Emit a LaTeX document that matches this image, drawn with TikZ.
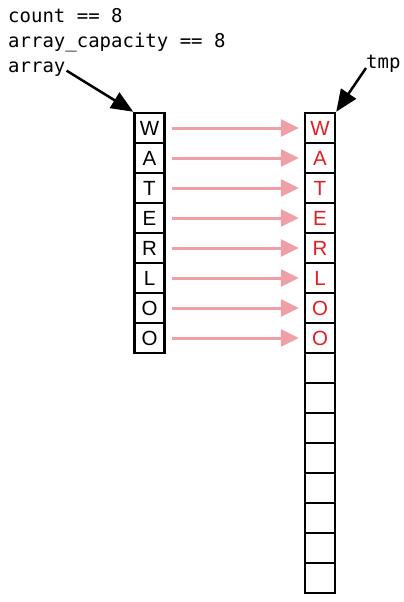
\documentclass[tikz,border=0pt]{standalone}
\usepackage{fontspec}
\setmainfont{Liberation Sans}
\newfontfamily\codefont{DejaVu Sans Mono}
\usetikzlibrary{arrows.meta}
\definecolor{pinkarrow}{RGB}{239,160,166}
\definecolor{redtext}{RGB}{228,30,36}
\tikzset{
  cell/.style={draw=black, line width=2.5pt, minimum width=30pt, minimum height=30pt, inner sep=0pt, font=\fontsize{20.5}{20.5}\selectfont},
  codetext/.style={inner sep=0pt, anchor=base west, font=\codefont\fontsize{19}{19}\selectfont},
  copyarrow/.style={draw=pinkarrow, line width=3pt, -{Triangle[length=18pt,width=17pt]}, shorten <=6.5pt, shorten >=5pt},
  ptrarrow/.style={draw=black, line width=2.5pt, -{Triangle[length=22pt,width=18pt]}}
}
\begin{document}
\begin{tikzpicture}[x=1pt,y=-1pt]
\useasboundingbox (0,0) rectangle (404,602);
\node[codetext] (count) at (8,23) {count == 8};
\node[codetext] (cap) at (8,48) {array\_capacity == 8};
\node[codetext] (arr) at (8,73) {array};
\node[codetext] (tmp) at (366,68) {tmp};
\foreach \ch [count=\i from 0] in {W,A,T,E,R,L,O,O} {
  \node[cell] (L\i) at (149.5,{128+30*\i}) {\ch};
  \node[cell, text=redtext] (R\i) at (320,{128+30*\i}) {\ch};
}
\foreach \i in {8,...,15} {
  \node[cell] (R\i) at (320,{128+30*\i}) {};
}
\foreach \i in {0,...,7} {
  \draw[copyarrow] (L\i.east) -- (R\i.west);
}
\draw[ptrarrow] ([xshift=1pt,yshift=-1pt]arr.east) -- (L0.north west);
\draw[ptrarrow] (tmp.base west) -- (R0.north east);
\end{tikzpicture}
\end{document}
